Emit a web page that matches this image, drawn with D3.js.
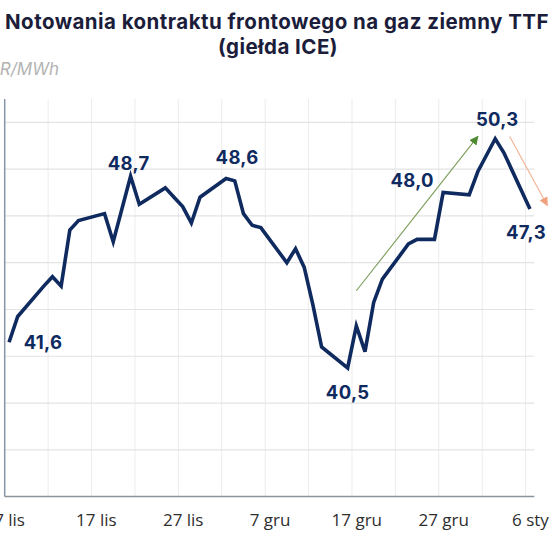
<!DOCTYPE html>
<html>
<head>
<meta charset="utf-8">
<script src="https://cdn.jsdelivr.net/npm/d3@7"></script>
<style>
  html, body { margin: 0; padding: 0; background: #fff; }
  svg { display: block; }
</style>
</head>
<body>
<svg id="chart" width="560" height="560"></svg>
<script>
// ---- data ----
const dates = [
  "2024-11-07","2024-11-08","2024-11-11","2024-11-12","2024-11-13","2024-11-14","2024-11-15",
  "2024-11-18","2024-11-19","2024-11-20","2024-11-21","2024-11-22",
  "2024-11-25","2024-11-26","2024-11-27","2024-11-28","2024-11-29",
  "2024-12-02","2024-12-03","2024-12-04","2024-12-05","2024-12-06",
  "2024-12-09","2024-12-10","2024-12-11","2024-12-12","2024-12-13",
  "2024-12-16","2024-12-17","2024-12-18","2024-12-19","2024-12-20",
  "2024-12-23","2024-12-24","2024-12-26","2024-12-27",
  "2024-12-30","2024-12-31","2025-01-02","2025-01-03","2025-01-06"
];
const prices = [
  41.6, 42.7, 44.0, 44.4, 44.0, 46.4, 46.8,
  47.1, 45.9, 47.3, 48.7, 47.5,
  48.2, 47.8, 47.4, 46.7, 47.8,
  48.6, 48.5, 47.1, 46.6, 46.5,
  45.0, 45.6, 44.8, 43.2, 41.4,
  40.5, 42.3, 41.2, 43.3, 44.3,
  45.8, 46.0, 46.0, 48.0,
  47.9, 48.9, 50.3, 49.7, 47.3
];
const tickDates = ["2024-11-07","2024-11-17","2024-11-27","2024-12-07","2024-12-17","2024-12-27","2025-01-06"];
const tickLabels = ["7 lis","17 lis","27 lis","7 gru","17 gru","27 gru","6 sty"];
const yGridValues = [37, 39, 41, 43, 45, 47, 49, 51];
const labelDates = ["2024-11-07","2024-11-21","2024-12-02","2024-12-16","2024-12-27","2025-01-02","2025-01-06"];
const labelTexts = ["41,6","48,7","48,6","40,5","48,0","50,3","47,3"];
const titleLines = ["Notowania kontraktu frontowego na gaz ziemny TTF", "(giełda ICE)"];
const unitLabel = "EUR/MWh";
// trend arrows: [startDate, startValue, endDate, endValue]
const upArrow = ["2024-12-17T00:00Z", 43.8, "2024-12-31T00:00Z", 50.4];
const downArrow = ["2025-01-03T16:00Z", 50.4, "2025-01-08T00:00Z", 47.45];

// ---- setup ----
const parse = s => new Date(s.length === 10 ? s + "T00:00:00Z" : s);
const DAY = 86400000;
const svg = d3.select("#chart");

const x = d3.scaleUtc()
  .domain([new Date(parse("2024-11-07") - DAY / 2), new Date(+parse("2025-01-06") + DAY / 2)])
  .range([4.7, 534.3]);
const y = d3.scaleLinear().domain([35, 52]).range([496.6, 99]);

const data = dates.map((d, i) => ({ date: parse(d), value: prices[i] }));

// gridlines vertical every 5 days
const vGrid = d3.utcDay.every(1).range(parse("2024-11-12"), parse("2025-01-07"))
  .filter(d => Math.round((d - parse("2024-11-12")) / DAY) % 5 === 0)
  .map(d => new Date(+d - DAY / 2));

svg.append("g").selectAll("line").data(vGrid).join("line")
  .attr("x1", d => x(d)).attr("x2", d => x(d))
  .attr("y1", y(52)).attr("y2", y(35))
  .attr("stroke", "#ececec").attr("stroke-width", 1);

svg.append("g").selectAll("line").data(yGridValues).join("line")
  .attr("x1", x.range()[0]).attr("x2", x.range()[1])
  .attr("y1", d => y(d)).attr("y2", d => y(d))
  .attr("stroke", "#e3e3e3").attr("stroke-width", 1.2);

// axes lines
svg.append("line")
  .attr("x1", x.range()[0]).attr("x2", x.range()[0])
  .attr("y1", y(52)).attr("y2", y(35))
  .attr("stroke", "#8595a5").attr("stroke-width", 1.5);
svg.append("line")
  .attr("x1", x.range()[0]).attr("x2", x.range()[1])
  .attr("y1", y(35)).attr("y2", y(35))
  .attr("stroke", "#8a929c").attr("stroke-width", 1.5);

// x labels via axis
const xAxis = d3.axisBottom(x)
  .tickValues(tickDates.map(parse))
  .tickFormat((d, i) => tickLabels[i])
  .tickSize(0).tickPadding(0);
const gx = svg.append("g").attr("transform", `translate(0, ${y(35)})`).call(xAxis);
gx.select(".domain").remove();
gx.selectAll("text")
  .attr("y", 29).attr("dy", 0)
  .attr("font-family", "'Open Sans', 'Noto Sans', sans-serif")
  .attr("font-size", 17)
  .attr("fill", "#2e2e2e");

// trend arrows
const defs = svg.append("defs");
function marker(id, color) {
  defs.append("marker").attr("id", id)
    .attr("viewBox", "0 0 10 10").attr("refX", 9).attr("refY", 5)
    .attr("markerWidth", 9).attr("markerHeight", 9).attr("markerUnits", "userSpaceOnUse")
    .attr("orient", "auto")
    .append("path").attr("d", "M0,0 L10,5 L0,10 Z").attr("fill", color);
}
marker("arrGreen", "#4f8a32");
marker("arrOrange", "#f0a27e");
svg.append("line")
  .attr("x1", x(parse(upArrow[0]))).attr("y1", y(upArrow[1]))
  .attr("x2", x(parse(upArrow[2]))).attr("y2", y(upArrow[3]))
  .attr("stroke", "#7a9c5a").attr("stroke-width", 1.1)
  .attr("marker-end", "url(#arrGreen)");
svg.append("line")
  .attr("x1", x(parse(downArrow[0]))).attr("y1", y(downArrow[1]))
  .attr("x2", x(parse(downArrow[2]))).attr("y2", y(downArrow[3]))
  .attr("stroke", "#f2b08f").attr("stroke-width", 1.1)
  .attr("marker-end", "url(#arrOrange)");

// line
const line = d3.line().x(d => x(d.date)).y(d => y(d.value));
svg.append("path").datum(data)
  .attr("d", line)
  .attr("fill", "none")
  .attr("stroke", "#0f2a5f")
  .attr("stroke-width", 3.6)
  .attr("stroke-linejoin", "miter")
  .attr("stroke-miterlimit", 4);

// value labels
const offsets = [[34, 7], [-2, -6], [11, -15], [0, 31.5], [-31, -6], [2, -13], [-4, 30]];
labelDates.forEach((ld, i) => {
  const p = data.find(d => +d.date === +parse(ld));
  svg.append("text")
    .attr("x", x(p.date) + offsets[i][0])
    .attr("y", y(p.value) + offsets[i][1])
    .attr("text-anchor", "middle")
    .attr("font-family", "Inter, 'DejaVu Sans', sans-serif")
    .attr("font-weight", 700)
    .attr("font-size", 18.5)
    .attr("letter-spacing", 0.3)
    .attr("fill", "#0f2a5f")
    .text(labelTexts[i]);
});

// title
[[titleLines[0], 277, 28.5], [titleLines[1], 278, 54]].forEach(([t, tx, ty]) => {
  svg.append("text")
    .attr("x", tx).attr("y", ty)
    .attr("text-anchor", "middle")
    .attr("font-family", "Inter, sans-serif")
    .attr("font-weight", 700)
    .attr("font-size", 20.5)
    .attr("letter-spacing", 0.45)
    .attr("fill", "#1b1d3a")
    .text(t);
});

// unit
svg.append("text")
  .attr("x", 59).attr("y", 75)
  .attr("text-anchor", "end")
  .attr("font-family", "Inter, sans-serif")
  .attr("font-style", "italic")
  .attr("font-size", 17)
  .attr("fill", "#b3b3b3")
  .text(unitLabel);
</script>
</body>
</html>
